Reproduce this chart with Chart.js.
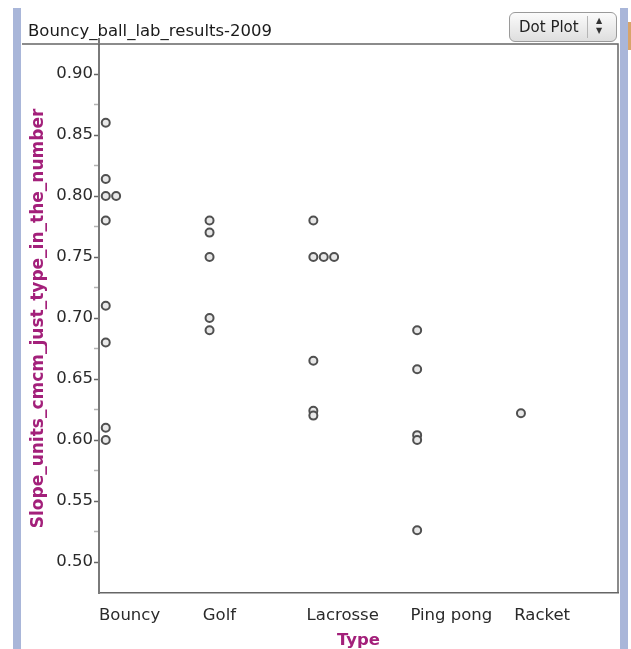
<!DOCTYPE html>
<html>
<head>
<meta charset="utf-8">
<script src="https://cdn.jsdelivr.net/npm/chart.js@4.4.0/dist/chart.umd.min.js"></script>
<style>
  html, body { margin: 0; padding: 0; background: #fff; }
  #wrap { position: relative; width: 631px; height: 649px; overflow: hidden; font-family: "DejaVu Sans", sans-serif; }
  #chart { position: absolute; left: 0; top: 0; }
  .stripe { position: absolute; background: #a9b6d9; }
  #title { position: absolute; left: 28px; top: 21px; font-size: 16.5px; color: #1a1a1a; white-space: nowrap; }
  #menu {
    position: absolute; left: 509px; top: 12px; width: 106px; height: 28px;
    border: 1px solid #9a9a9a; border-radius: 6px;
    background: linear-gradient(#fbfbfb, #dedede);
    font-size: 15px; color: #222;
  }
  #menu .txt { position: absolute; left: 9px; top: 5px; }
  #menu .sep { position: absolute; left: 77px; top: 3px; width: 1px; height: 22px; background: #b5b5b5; }
  #menu .arr { position: absolute; left: 86px; top: 3px; font-size: 8px; line-height: 10px; color: #333; }
</style>
</head>
<body>
<div id="wrap">
  <div class="stripe" style="left:13px;top:8px;width:8px;height:641px;"></div>
  <div class="stripe" style="left:620px;top:8px;width:8px;height:641px;"></div>
  <div class="stripe" style="left:628px;top:22px;width:3px;height:28px;background:#d8a46a;"></div>
  <canvas id="chart" width="631" height="649"></canvas>
  <div id="title">Bouncy_ball_lab_results-2009</div>
  <div id="menu"><span class="txt">Dot Plot</span><span class="sep"></span><span class="arr">▲<br>▼</span></div>
</div>
<script>
const CATEGORIES = ['Bouncy', 'Golf', 'Lacrosse', 'Ping pong', 'Racket'];
const BOUNCY = [0.86, 0.814, 0.80, 0.80, 0.78, 0.71, 0.68, 0.61, 0.60];
const GOLF = [0.78, 0.77, 0.75, 0.70, 0.69];
const LACROSSE = [0.78, 0.75, 0.75, 0.75, 0.665, 0.624, 0.62];
const PING_PONG = [0.69, 0.658, 0.604, 0.60, 0.526];
const RACKET = [0.622];
const SERIES = [BOUNCY, GOLF, LACROSSE, PING_PONG, RACKET];

const Y_MAJOR_TICKS = [0.50, 0.55, 0.60, 0.65, 0.70, 0.75, 0.80, 0.85, 0.90];
const Y_MINOR_TICKS = [0.525, 0.575, 0.625, 0.675, 0.725, 0.775, 0.825, 0.875];
const Y_MIN = 0.4746;
const Y_MAX = 0.9246;

const X_TITLE = 'Type';
const Y_TITLE = 'Slope_units_cmcm_just_type_in_the_number';

// dot plot: equal values sit side by side inside their category bin
const DOT_OFFSET = 0.065;
const DOT_STEP = 0.1;

const points = [];
SERIES.forEach((values, i) => {
  const seen = {};
  values.forEach((v) => {
    const key = v.toFixed(3);
    const k = seen[key] || 0;
    seen[key] = k + 1;
    points.push({ x: i + DOT_OFFSET + k * DOT_STEP, y: v });
  });
});

const isMajor = (v) => Y_MAJOR_TICKS.some((m) => Math.abs(m - v) < 1e-6);
const TITLE_COLOR = '#a3207a';
const FONT = 'DejaVu Sans';

const framePlugin = {
  id: 'frame',
  afterDraw(chart) {
    const { ctx, chartArea } = chart;
    ctx.save();
    ctx.strokeStyle = '#666';
    ctx.lineWidth = 1.5;
    ctx.beginPath();
    ctx.moveTo(22, chartArea.top);
    ctx.lineTo(chartArea.right, chartArea.top);
    ctx.lineTo(chartArea.right, chartArea.bottom);
    ctx.stroke();
    ctx.strokeStyle = '#7a7a7a';
    ctx.lineWidth = 2;
    ctx.beginPath();
    ctx.moveTo(chartArea.left, chartArea.top - 6);
    ctx.lineTo(chartArea.left, chartArea.top);
    ctx.stroke();
    ctx.restore();
  }
};

new Chart(document.getElementById('chart'), {
  type: 'scatter',
  data: {
    datasets: [{
      data: points,
      pointStyle: 'circle',
      pointRadius: 4,
      pointHoverRadius: 4,
      pointBorderWidth: 2,
      pointBorderColor: '#505050',
      pointBackgroundColor: '#e8e8e8'
    }]
  },
  options: {
    responsive: false,
    animation: false,
    events: [],
    layout: { padding: { left: 0, top: 44, right: 13, bottom: 0 } },
    plugins: { legend: { display: false }, tooltip: { enabled: false } },
    scales: {
      x: {
        type: 'linear',
        min: 0,
        max: CATEGORIES.length,
        afterBuildTicks: (scale) => { scale.ticks = CATEGORIES.map((c, i) => ({ value: i })); },
        afterFit: (scale) => { scale.height = 56; },
        ticks: {
          align: 'start',
          autoSkip: false,
          maxRotation: 0,
          padding: 13,
          color: '#2a2a2a',
          font: { family: FONT, size: 16.5 },
          callback: (v, i) => CATEGORIES[i]
        },
        grid: { display: true, drawOnChartArea: false, drawTicks: false },
        border: { display: true, color: '#666', width: 1.5 },
        title: {
          display: true,
          text: X_TITLE,
          color: TITLE_COLOR,
          font: { family: FONT, size: 16.5, weight: 'bold', lineHeight: 1 },
          padding: { top: 0, bottom: 0 }
        }
      },
      y: {
        type: 'linear',
        min: Y_MIN,
        max: Y_MAX,
        afterBuildTicks: (scale) => {
          scale.ticks = Y_MAJOR_TICKS.concat(Y_MINOR_TICKS).sort((a, b) => a - b).map((v) => ({ value: v }));
        },
        afterFit: (scale) => { scale.width = 99; },
        ticks: {
          padding: 1,
          color: '#2a2a2a',
          font: { family: FONT, size: 16.5 },
          callback: (v) => (isMajor(v) ? v.toFixed(2) : '')
        },
        grid: {
          drawOnChartArea: false,
          drawTicks: true,
          tickLength: 5,
          tickWidth: 1.5,
          tickColor: (ctx) => (ctx.tick && isMajor(ctx.tick.value) ? '#666' : '#b3b3b3')
        },
        border: { display: true, color: '#7a7a7a', width: 2 },
        title: {
          display: true,
          text: Y_TITLE,
          color: TITLE_COLOR,
          font: { family: FONT, size: 17, weight: 'bold', lineHeight: 1.2 },
          padding: { top: 28, bottom: 0 }
        }
      }
    }
  },
  plugins: [framePlugin]
});
</script>
</body>
</html>
